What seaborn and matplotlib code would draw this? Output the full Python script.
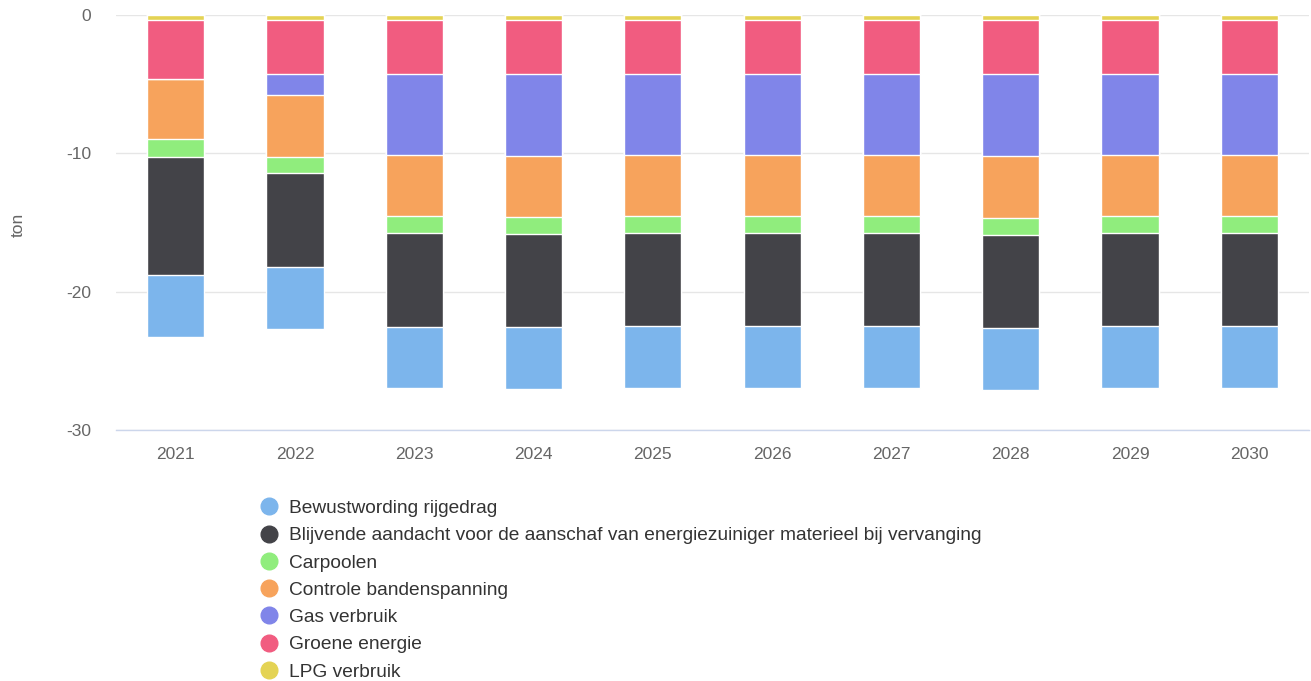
import matplotlib
matplotlib.use("Agg")
import matplotlib.pyplot as plt
from matplotlib.lines import Line2D
import numpy as np
import seaborn as sns

years = ["2021", "2022", "2023", "2024", "2025", "2026", "2027", "2028", "2029", "2030"]

# reductions in ton (negative values), per measure
lpg_verbruik = [-0.36, -0.36, -0.36, -0.36, -0.36, -0.36, -0.36, -0.36, -0.36, -0.36]
groene_energie = [-4.24, -3.92, -3.92, -3.92, -3.92, -3.92, -3.92, -3.92, -3.92, -3.92]
gas_verbruik = [0.0, -1.50, -5.82, -5.90, -5.82, -5.82, -5.82, -5.90, -5.82, -5.82]
controle_bandenspanning = [-4.37, -4.49, -4.43, -4.45, -4.43, -4.43, -4.43, -4.50, -4.43, -4.43]
carpoolen = [-1.27, -1.17, -1.25, -1.20, -1.25, -1.25, -1.25, -1.20, -1.25, -1.25]
blijvende_aandacht = [-8.56, -6.80, -6.75, -6.75, -6.72, -6.72, -6.72, -6.78, -6.72, -6.72]
bewustwording_rijgedrag = [-4.46, -4.46, -4.45, -4.47, -4.48, -4.48, -4.48, -4.45, -4.48, -4.48]

series_names = [
    "LPG verbruik",
    "Groene energie",
    "Gas verbruik",
    "Controle bandenspanning",
    "Carpoolen",
    "Blijvende aandacht voor de aanschaf van energiezuiniger materieel bij vervanging",
    "Bewustwording rijgedrag",
]
series_values = [
    lpg_verbruik,
    groene_energie,
    gas_verbruik,
    controle_bandenspanning,
    carpoolen,
    blijvende_aandacht,
    bewustwording_rijgedrag,
]
series_colors = ["#e4d354", "#f15c80", "#8085e9", "#f7a35c", "#90ed7d", "#434348", "#7cb5ec"]

TEXT_COLOR = "#333333"
MUTED = "#666666"
GRID = "#e6e6e6"

sns.set_style("white")
plt.rcParams["font.family"] = ["Liberation Sans", "DejaVu Sans"]
plt.rcParams["axes.unicode_minus"] = False

fig = plt.figure(figsize=(13.11, 6.81), dpi=100)
ax = fig.add_axes([116 / 1311, 1 - 430 / 681, 1193 / 1311, 415 / 681])

# stack by layering cumulative totals, deepest first
cumulative = np.cumsum(np.array(series_values), axis=0)
for i in range(len(series_names) - 1, -1, -1):
    sns.barplot(
        x=years,
        y=cumulative[i],
        color=series_colors[i],
        width=0.48,
        edgecolor="white",
        linewidth=1,
        saturation=1,
        ax=ax,
    )

ax.set_ylim(-30, 0)
ax.set_xlim(-0.5, 9.5)
ax.set_yticks([0, -10, -20, -30])
ax.set_yticklabels(["0", "-10", "-20", "-30"])
ax.grid(True, axis="y", color=GRID, linewidth=1)
ax.set_axisbelow(True)
for side in ["top", "right", "left"]:
    ax.spines[side].set_visible(False)
ax.spines["bottom"].set_color("#ccd6eb")
ax.spines["bottom"].set_linewidth(1)
ax.tick_params(axis="both", length=0, labelsize=12.5, labelcolor=MUTED)
ax.tick_params(axis="x", pad=12)
ax.tick_params(axis="y", pad=18)
ax.set_xlabel("")
ax.set_ylabel("")
fig.text(18 / 1311, 1 - 225 / 681, "ton", rotation=90, ha="center", va="center",
         fontsize=12.5, color=MUTED)

legend_order = [6, 5, 4, 3, 2, 1, 0]
handles = [
    Line2D([0], [0], marker="o", linestyle="", markersize=12,
           markerfacecolor=series_colors[i], markeredgecolor=series_colors[i])
    for i in legend_order
]
labels = [series_names[i] for i in legend_order]
fig.legend(
    handles,
    labels,
    loc="upper left",
    bbox_to_anchor=(249 / 1311, 1 - 490 / 681),
    frameon=False,
    fontsize=13.75,
    labelcolor=TEXT_COLOR,
    handletextpad=0.5,
    labelspacing=0.52,
    handlelength=1.1,
    borderpad=0,
)

fig.savefig("out.png", dpi=100, facecolor="white")
